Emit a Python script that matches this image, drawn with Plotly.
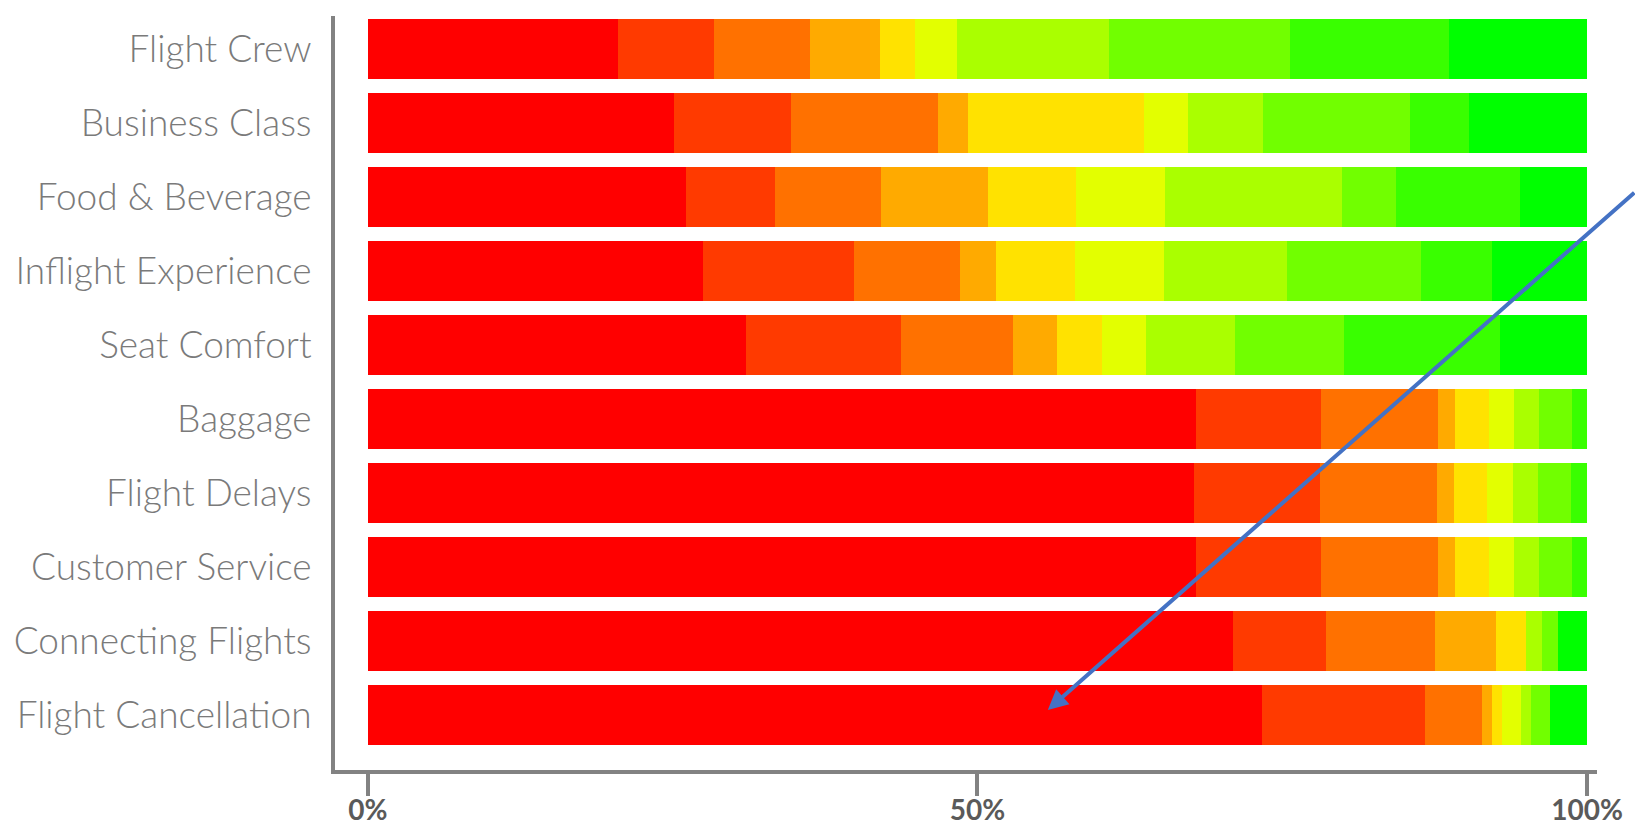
import plotly.graph_objects as go

# Satisfaction categories, top to bottom
categories = [
    "Flight Crew", "Business Class", "Food & Beverage", "Inflight Experience",
    "Seat Comfort", "Baggage", "Flight Delays", "Customer Service",
    "Connecting Flights", "Flight Cancellation",
]

# Share of responses (%) per sentiment level, from most negative (1) to most positive (10)
level_1 = [20.5, 25.1, 26.1, 27.5, 31.0, 67.9, 67.8, 67.9, 71.0, 73.3]
level_2 = [7.9, 9.6, 7.3, 12.4, 12.7, 10.3, 10.3, 10.3, 7.6, 13.4]
level_3 = [7.9, 12.1, 8.7, 8.7, 9.2, 9.6, 9.6, 9.6, 8.9, 4.7]
level_4 = [5.7, 2.4, 8.8, 2.9, 3.6, 1.4, 1.4, 1.4, 5.0, 0.8]
level_5 = [2.9, 14.5, 7.2, 6.5, 3.7, 2.8, 2.7, 2.8, 2.5, 0.8]
level_6 = [3.4, 3.6, 7.3, 7.3, 3.6, 2.0, 2.1, 2.0, 0.0, 1.6]
level_7 = [12.5, 6.1, 14.5, 10.1, 7.3, 2.1, 2.1, 2.1, 1.3, 0.8]
level_8 = [14.8, 12.1, 4.4, 11.0, 9.0, 2.7, 2.7, 2.7, 1.3, 1.6]
level_9 = [13.1, 4.8, 10.2, 5.8, 12.8, 1.2, 1.3, 1.2, 0.0, 0.0]
level_10 = [11.3, 9.7, 5.5, 7.8, 7.1, 0.0, 0.0, 0.0, 2.4, 3.0]

levels = [level_1, level_2, level_3, level_4, level_5,
          level_6, level_7, level_8, level_9, level_10]

# Red -> green hue ramp
level_colors = ["#FF0000", "#FF3A00", "#FF7100", "#FFAA00", "#FFE200",
                "#E3FF00", "#AAFF00", "#71FF00", "#39FF00", "#00FF00"]

x_tick_vals = [0, 50, 100]
x_tick_text = ["0%", "50%", "100%"]

fig = go.Figure()
for i, (vals, color) in enumerate(zip(levels, level_colors)):
    fig.add_trace(go.Bar(
        y=categories,
        x=vals,
        orientation="h",
        name=str(i + 1),
        marker=dict(color=color, line=dict(width=0)),
        width=0.81,
        hoverinfo="skip",
    ))

axis_gray = "#828282"

fig.update_layout(
    width=1635,
    height=830,
    barmode="stack",
    showlegend=False,
    paper_bgcolor="white",
    plot_bgcolor="white",
    margin=dict(l=335, r=38, t=16, b=60),
    xaxis=dict(
        range=[-2.7, 100.82],
        automargin=False,
        showgrid=False,
        zeroline=False,
        showline=True,
        linecolor=axis_gray,
        linewidth=4,
        ticks="outside",
        ticklen=22,
        tickwidth=4,
        tickcolor=axis_gray,
        tickvals=x_tick_vals,
        ticktext=x_tick_text,
        ticklabelstandoff=-10,
        tickfont=dict(family="Lato", size=28, color="#5a5a5a", weight=700),
        fixedrange=True,
    ),
    yaxis=dict(
        type="category",
        categoryorder="array",
        categoryarray=categories,
        range=[9.74, -0.45],
        automargin=False,
        showgrid=False,
        zeroline=False,
        showline=True,
        linecolor=axis_gray,
        linewidth=4,
        ticks="",
        ticklabelstandoff=12,
        tickfont=dict(family="Lato", size=37, color="#7a7a7a", weight=300),
        fixedrange=True,
    ),
)

# Blue pointer arrow
fig.add_annotation(
    x=55.77, y=8.93, xref="x", yref="y",
    ax=104.0, ay=1.92, axref="x", ayref="y",
    text="",
    showarrow=True,
    arrowhead=2,
    arrowsize=1.0,
    arrowwidth=4,
    arrowcolor="#4472C4",
    standoff=0,
)

fig.write_html("out.html")
